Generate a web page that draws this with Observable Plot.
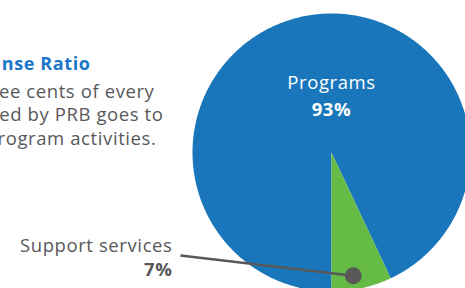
<!DOCTYPE html>
<html>
<head>
<meta charset="utf-8">
<script src="https://cdn.jsdelivr.net/npm/d3@7"></script>
<script src="https://cdn.jsdelivr.net/npm/@observablehq/plot@0.6"></script>
<style>
  html, body { margin: 0; padding: 0; background: #fff; overflow: hidden; }
  #chart svg { display: block; overflow: hidden; }
</style>
</head>
<body>
<div id="chart"></div>
<script>
// ---- data ----
const categories = ["Programs", "Support services"];
const shares = [93, 7];
const percentLabels = ["93%", "7%"];
const sliceColors = ["#1976bb", "#66bb47"];
const introTitle = ["nse Ratio"];
const introLines = ["ee cents of every", "ed by PRB goes to", "rogram activities."];

// ---- layout (pixels) ----
const W = 465, H = 288;
const cx = 331, cy = 152, R = 139;
const px = v => (v - cx) / R;   // pixel x -> data x
const py = v => (cy - v) / R;   // pixel baseline y -> data y
const FONT = "'Open Sans', Lato, sans-serif";
const grey = "#58585b";

const rows = categories.map((c, i) => ({name: c, value: shares[i], label: percentLabels[i]}));
const arcs = d3.pie().sort(null).value(d => d.value).startAngle(Math.PI).endAngle(3 * Math.PI)(rows);

// slice outlines: center -> arc -> center (filled as polygons)
const pts = [];
for (const a of arcs) {
  const n = Math.max(2, Math.ceil((a.endAngle - a.startAngle) / (Math.PI / 360)));
  pts.push({name: a.data.name, x: 0, y: 0});
  for (let k = 0; k <= n; k++) {
    const t = a.startAngle + (a.endAngle - a.startAngle) * k / n;
    pts.push({name: a.data.name, x: Math.sin(t), y: Math.cos(t)});
  }
  pts.push({name: a.data.name, x: 0, y: 0});
}

const support = arcs[1];
const mid = (support.startAngle + support.endAngle) / 2 + 0.045;
const dotPos = [{x: 0.9 * Math.sin(mid), y: 0.9 * Math.cos(mid)}];

const introRightEdges = [154, 163, 156];
const introBaselines = [97, 120.5, 144];

const chart = Plot.plot({
  width: W, height: H,
  margin: 0,
  x: {domain: [-1, 1], range: [cx - R, cx + R], axis: null},
  y: {domain: [-1, 1], range: [cy + R, cy - R], axis: null},
  color: {domain: categories, range: sliceColors},
  style: {fontFamily: FONT, background: "#fff", letterSpacing: "0.6px"},
  marks: [
    Plot.line(pts, {x: "x", y: "y", z: "name", fill: "name", stroke: "none", curve: "linear"}),
    // leader line + dot
    Plot.link(dotPos, {x1: d => d.x, y1: d => d.y, x2: px(180), y2: py(255), stroke: grey, strokeWidth: 2.5}),
    Plot.dot(dotPos, {x: "x", y: "y", r: 8.5, fill: grey, stroke: "none"}),
    // Programs label inside the pie
    Plot.text([rows[0]], {x: 0, y: py(88), text: "name", fill: "#fff", fontSize: 18.5, lineAnchor: "bottom", textAnchor: "middle"}),
    Plot.text([rows[0]], {x: 0, y: py(115), text: "label", fill: "#fff", fontSize: 18.5, fontWeight: "bold", lineAnchor: "bottom", textAnchor: "middle"}),
    // Support services label
    Plot.text([rows[1]], {x: px(172), y: py(251), text: "name", fill: grey, fontSize: 18.5, lineAnchor: "bottom", textAnchor: "end"}),
    Plot.text([rows[1]], {x: px(172), y: py(275), text: "label", fill: grey, fontSize: 18.5, fontWeight: "bold", lineAnchor: "bottom", textAnchor: "end"}),
    // intro text (cropped on the left)
    Plot.text(introTitle, {x: px(90), y: py(69), text: d => d, fill: "#1a76c8", fontSize: 18, fontWeight: "bold", lineAnchor: "bottom", textAnchor: "end"}),
    Plot.text(introLines, {x: (d, i) => px(introRightEdges[i]), y: (d, i) => py(introBaselines[i]), text: d => d, fill: grey, fontSize: 18.5, lineAnchor: "bottom", textAnchor: "end"})
  ]
});
document.getElementById("chart").appendChild(chart);
</script>
</body>
</html>
